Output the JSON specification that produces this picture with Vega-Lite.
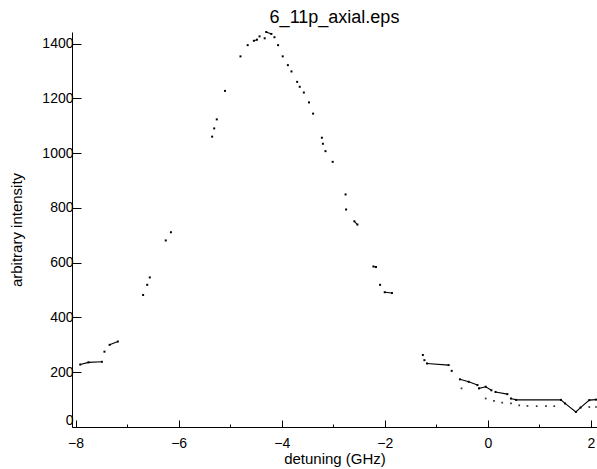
{
  "$schema": "https://vega.github.io/schema/vega-lite/v6.json",
  "autosize": "none",
  "padding": {"left": 72, "top": 32, "right": 0, "bottom": 42},
  "width": 525,
  "height": 395,
  "background": "white",
  "config": {
    "view": {"stroke": null},
    "font": "Liberation Sans",
    "axis": {"grid": false, "domainColor": "black", "tickColor": "black", "labelColor": "black", "titleColor": "black", "labelFont": "Liberation Sans", "titleFont": "Liberation Sans", "labelFontSize": 14, "titleFontSize": 15, "titleFontWeight": "normal"}
  },
  "title": {"text": "6_11p_axial.eps", "fontSize": 18, "fontWeight": "normal", "font": "Liberation Sans", "color": "black", "offset": 3},
  "datasets": {
    "main": [
      {"x": -7.91, "y": 228, "seg": 1}, {"x": -7.75, "y": 236, "seg": 1}, {"x": -7.49, "y": 238, "seg": 1},
      {"x": -7.44, "y": 275, "seg": 2},
      {"x": -7.34, "y": 300, "seg": 3}, {"x": -7.18, "y": 312, "seg": 3},
      {"x": -6.69, "y": 482, "seg": 4}, {"x": -6.61, "y": 519, "seg": 5}, {"x": -6.56, "y": 546, "seg": 6},
      {"x": -6.25, "y": 681, "seg": 7}, {"x": -6.15, "y": 711, "seg": 8},
      {"x": -5.35, "y": 1060, "seg": 9}, {"x": -5.31, "y": 1090, "seg": 10}, {"x": -5.26, "y": 1123, "seg": 11},
      {"x": -5.10, "y": 1227, "seg": 12},
      {"x": -4.80, "y": 1353, "seg": 13}, {"x": -4.66, "y": 1394, "seg": 14},
      {"x": -4.54, "y": 1410, "seg": 15}, {"x": -4.48, "y": 1414, "seg": 15},
      {"x": -4.43, "y": 1426, "seg": 16}, {"x": -4.33, "y": 1419, "seg": 17},
      {"x": -4.30, "y": 1442, "seg": 18}, {"x": -4.20, "y": 1435, "seg": 18},
      {"x": -4.14, "y": 1423, "seg": 19}, {"x": -4.07, "y": 1394, "seg": 20},
      {"x": -3.98, "y": 1353, "seg": 21}, {"x": -3.88, "y": 1321, "seg": 22},
      {"x": -3.81, "y": 1298, "seg": 23}, {"x": -3.70, "y": 1260, "seg": 24},
      {"x": -3.65, "y": 1242, "seg": 25}, {"x": -3.57, "y": 1221, "seg": 26},
      {"x": -3.47, "y": 1185, "seg": 27}, {"x": -3.39, "y": 1144, "seg": 28},
      {"x": -3.22, "y": 1056, "seg": 29}, {"x": -3.20, "y": 1034, "seg": 30},
      {"x": -3.15, "y": 1007, "seg": 31}, {"x": -3.01, "y": 968, "seg": 32},
      {"x": -2.76, "y": 849, "seg": 33}, {"x": -2.75, "y": 794, "seg": 34},
      {"x": -2.59, "y": 751, "seg": 35}, {"x": -2.53, "y": 739, "seg": 35},
      {"x": -2.22, "y": 586, "seg": 36}, {"x": -2.17, "y": 584, "seg": 36},
      {"x": -2.09, "y": 519, "seg": 37},
      {"x": -2.00, "y": 492, "seg": 38}, {"x": -1.86, "y": 489, "seg": 38},
      {"x": -1.26, "y": 263, "seg": 39}, {"x": -1.23, "y": 244, "seg": 40},
      {"x": -1.18, "y": 232, "seg": 41}, {"x": -0.76, "y": 226, "seg": 41},
      {"x": -0.70, "y": 205, "seg": 42},
      {"x": -0.54, "y": 174, "seg": 43}, {"x": -0.37, "y": 165, "seg": 43}, {"x": -0.20, "y": 153, "seg": 43},
      {"x": -0.17, "y": 141, "seg": 44}, {"x": -0.04, "y": 147, "seg": 44}, {"x": 0.07, "y": 134, "seg": 44},
      {"x": 0.15, "y": 128, "seg": 45}, {"x": 0.38, "y": 120, "seg": 45},
      {"x": 0.45, "y": 104, "seg": 46}, {"x": 0.55, "y": 99, "seg": 46}, {"x": 1.42, "y": 99, "seg": 46},
      {"x": 1.50, "y": 86, "seg": 46}, {"x": 1.71, "y": 55, "seg": 46}, {"x": 1.80, "y": 71, "seg": 46},
      {"x": 1.97, "y": 98, "seg": 46}, {"x": 2.10, "y": 100, "seg": 46}
    ],
    "lower": [
      {"x": -0.51, "y": 141}, {"x": -0.04, "y": 104}, {"x": 0.12, "y": 95}, {"x": 0.28, "y": 89},
      {"x": 0.45, "y": 86}, {"x": 0.61, "y": 79}, {"x": 0.77, "y": 77}, {"x": 0.95, "y": 76},
      {"x": 1.13, "y": 76}, {"x": 1.29, "y": 76}, {"x": 1.97, "y": 73}, {"x": 2.10, "y": 73}
    ]
  },
  "layer": [
    {
      "data": {"name": "main"},
      "mark": {"type": "line", "color": "black", "strokeWidth": 1.1},
      "encoding": {
        "x": {"field": "x", "type": "quantitative", "scale": {"domain": [-8.07, 2.12], "nice": false, "zero": false},
          "axis": {"title": "detuning (GHz)", "values": [-8, -7.5, -7, -6.5, -6, -5.5, -5, -4.5, -4, -3.5, -3, -2.5, -2, -1.5, -1, -0.5, 0, 0.5, 1, 1.5, 2],
            "labelExpr": "datum.value % 2 === 0 ? datum.label : ''", "labelOverlap": false, "labelFlush": false,
            "tickSize": {"condition": {"test": "datum.value % 2 === 0", "value": -7}, "value": -3},
            "labelPadding": 16, "titlePadding": -3}},
        "y": {"field": "y", "type": "quantitative", "scale": {"domain": [0, 1442], "nice": false},
          "axis": {"title": "arbitrary intensity", "values": [0, 50, 100, 150, 200, 250, 300, 350, 400, 450, 500, 550, 600, 650, 700, 750, 800, 850, 900, 950, 1000, 1050, 1100, 1150, 1200, 1250, 1300, 1350, 1400],
            "labelExpr": "datum.value % 200 === 0 ? datum.label : ''", "labelOverlap": false, "labelFlush": true, "format": "d",
            "tickSize": {"condition": {"test": "datum.value % 200 === 0", "value": -9}, "value": -4},
            "labelPadding": 8, "titlePadding": 17}},
        "detail": {"field": "seg", "type": "nominal"}
      }
    },
    {
      "data": {"name": "main"},
      "mark": {"type": "point", "shape": "square", "filled": true, "color": "black", "size": 4, "opacity": 1},
      "encoding": {
        "x": {"field": "x", "type": "quantitative"},
        "y": {"field": "y", "type": "quantitative"}
      }
    },
    {
      "data": {"name": "lower"},
      "mark": {"type": "point", "shape": "square", "filled": true, "color": "#333333", "size": 3, "opacity": 1},
      "encoding": {
        "x": {"field": "x", "type": "quantitative"},
        "y": {"field": "y", "type": "quantitative"}
      }
    }
  ]
}
